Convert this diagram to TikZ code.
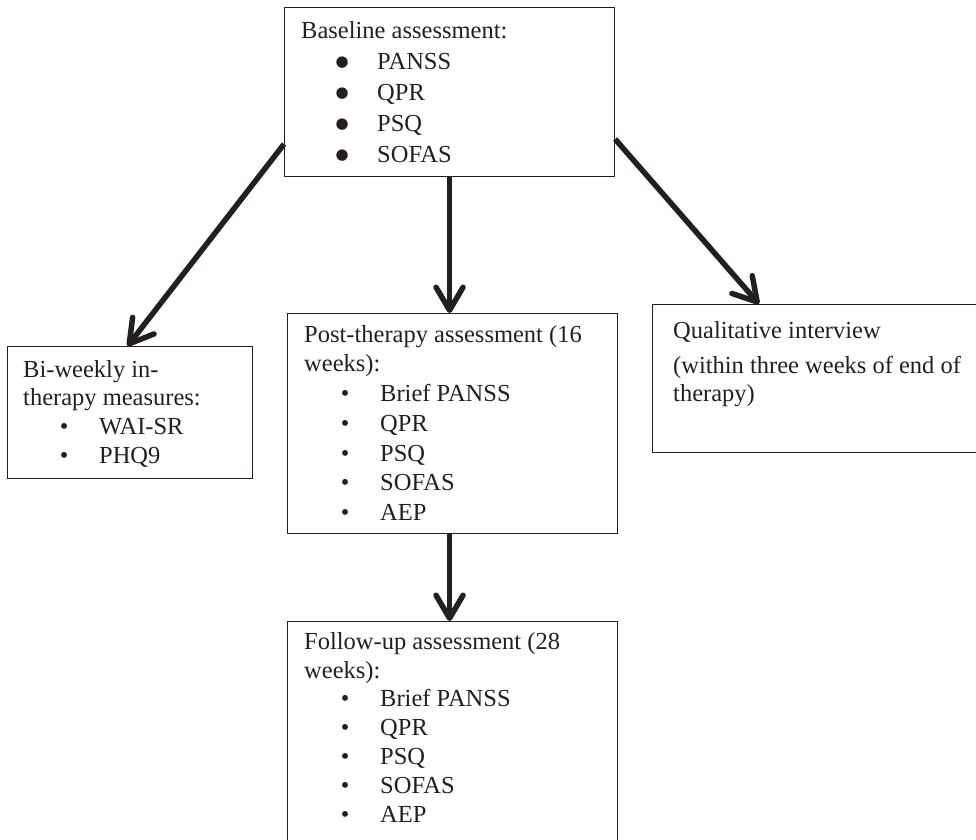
\documentclass[tikz,border=0pt]{standalone}
\usepackage{fontspec}
\setmainfont{Liberation Serif}
\newfontfamily\symfont{DejaVu Sans}
\usetikzlibrary{arrows.meta}
\definecolor{ink}{RGB}{35,31,32}
\newcommand{\smb}{\textbullet}
\newcommand{\bgb}{{\symfont\fontsize{15}{15}\selectfont\raisebox{2.5pt}{●}}}
\newcommand{\li}[2]{\hspace*{41pt}\makebox[0pt]{#1}\hspace*{35pt}#2}
\begin{document}
\begin{tikzpicture}[x=1pt,y=-1pt,
  box/.style={draw=ink, line width=1.1pt, inner sep=0pt, anchor=north west},
  txt/.style={inner sep=0pt, anchor=north west, align=left, text=ink},
  arr/.style={draw=ink, line width=5.5pt, -{Straight Barb[length=23pt,width=27pt,round]}}]
\useasboundingbox (0,0) rectangle (976,839);
% boxes
\node[box, minimum width=330pt, minimum height=169pt] (base) at (284,7) {};
\node[box, minimum width=245pt, minimum height=132pt] (bi) at (7,346) {};
\node[box, minimum width=330pt, minimum height=220pt] (post) at (287,313) {};
\node[box, minimum width=330pt, minimum height=230pt] (follow) at (287,621) {};
\node[box, minimum width=340pt, minimum height=148pt] (qual) at (652,304) {};
% texts
\node[txt, font=\fontsize{24.5}{31}\selectfont] (baset) at (301,18)
  {\rule{0pt}{20pt}Baseline assessment:\\
   \li{\bgb}{PANSS}\\
   \li{\bgb}{QPR}\\
   \li{\bgb}{PSQ}\\
   \li{\bgb}{SOFAS}};
\node[txt, font=\fontsize{24.5}{28.7}\selectfont] (bit) at (23,357)
  {\rule{0pt}{20pt}Bi-weekly in-\\
   therapy measures:\\
   \li{\smb}{WAI-SR}\\
   \li{\smb}{PHQ9}};
\node[txt, font=\fontsize{24.5}{29.7}\selectfont] (postt) at (304,322)
  {\rule{0pt}{20pt}Post-therapy assessment (16\\
   weeks):\\
   \li{\smb}{Brief PANSS}\\
   \li{\smb}{QPR}\\
   \li{\smb}{PSQ}\\
   \li{\smb}{SOFAS}\\
   \li{\smb}{AEP}};
\node[txt, font=\fontsize{24.5}{28.8}\selectfont] (followt) at (304,629)
  {\rule{0pt}{20pt}Follow-up assessment (28\\
   weeks):\\
   \li{\smb}{Brief PANSS}\\
   \li{\smb}{QPR}\\
   \li{\smb}{PSQ}\\
   \li{\smb}{SOFAS}\\
   \li{\smb}{AEP}};
\node[txt, font=\fontsize{24.5}{28}\selectfont] (qualt) at (673,318)
  {\rule{0pt}{20pt}Qualitative interview\\[7pt]
   (within three weeks of end of\\
   therapy)};
% arrows
\draw[arr] ([yshift=33pt]base.south west) -- ([xshift=-2.5pt]bi.north);
\draw[arr] (base.south) -- (base.south |- post.north);
\draw[arr] ([yshift=38pt]base.south east) -- ([xshift=107pt]qual.north west);
\draw[arr] ([xshift=-3pt]post.south) -- ([xshift=-3pt]follow.north);
\end{tikzpicture}
\end{document}
